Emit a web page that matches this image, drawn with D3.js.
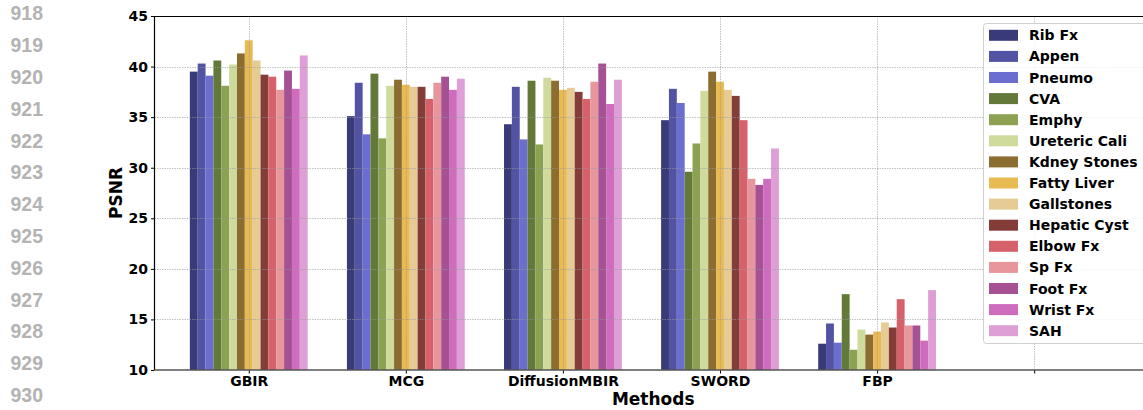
<!DOCTYPE html>
<html><head><meta charset="utf-8">
<script src="https://cdn.jsdelivr.net/npm/d3@7"></script>
<style>html,body{margin:0;padding:0;background:#fff;}svg{display:block;}</style>
</head><body>
<svg id="c" width="1143" height="410"></svg>
<script>
const methods = ["GBIR", "MCG", "DiffusionMBIR", "SWORD", "FBP"];
const diseases = ["Rib Fx","Appen","Pneumo","CVA","Emphy","Ureteric Cali","Kdney Stones","Fatty Liver","Gallstones","Hepatic Cyst","Elbow Fx","Sp Fx","Foot Fx","Wrist Fx","SAH"];
const colors = ["#393b79","#5254a3","#6b6ecf","#637939","#8ca252","#cedb9c","#8c6d31","#e7ba52","#e7cb94","#843c39","#d6616b","#e7969c","#a55194","#ce6dbd","#de9ed6"];
const gbir = [39.5,40.3,39.1,40.6,38.1,40.2,41.3,42.6,40.6,39.2,39.0,37.7,39.6,37.8,41.1];
const mcg = [35.1,38.4,33.3,39.3,32.9,38.1,38.7,38.2,38.0,38.0,36.8,38.4,39.0,37.7,38.8];
const diffusionMBIR = [34.3,38.0,32.8,38.6,32.3,38.9,38.6,37.7,37.9,37.5,36.8,38.5,40.3,36.3,38.7];
const sword = [34.7,37.8,36.4,29.6,32.4,37.6,39.5,38.5,37.7,37.1,34.7,28.9,28.3,28.9,31.9];
const fbp = [12.6,14.6,12.7,17.5,12.0,14.0,13.5,13.8,14.7,14.2,17.0,14.4,14.4,12.9,17.9];
const yTicks = [10,15,20,25,30,35,40,45];
const lineNumbers = ["918","919","920","921","922","923","924","925","926","927","928","929","930"];

const values = [gbir, mcg, diffusionMBIR, sword, fbp];
const svg = d3.select("#c");
const font = "'DejaVu Sans', sans-serif";

// line numbers
svg.append("g").selectAll("text").data(lineNumbers).join("text")
  .attr("x", 10.5).attr("y", (d,i) => 13.3 + i*31.8)
  .attr("dy", "0.36em")
  .attr("font-family", "'Liberation Sans', Arial, sans-serif")
  .attr("font-weight", "bold")
  .attr("font-size", 19.5).attr("fill", "#b3b3b3")
  .text(d => d);

const x = d3.scaleLinear().domain([-0.6, 5.75]).range([154.5, 1152]);
const y = d3.scaleLinear().domain([10, 45]).range([370, 16]);
const bw = 0.05;

// bars
const rows = [];
values.forEach((arr, mi) => arr.forEach((v, di) => rows.push({mi, di, v})));
svg.append("g").selectAll("rect").data(rows).join("rect")
  .attr("x", d => x(d.mi + (d.di - 7) * bw - bw/2))
  .attr("width", d => x(bw) - x(0))
  .attr("y", d => y(d.v))
  .attr("height", d => y(10) - y(d.v))
  .attr("fill", d => colors[d.di]);

// grid (on top)
const grid = svg.append("g").attr("stroke", "#9a9a9a").attr("stroke-opacity", 0.6)
  .attr("stroke-dasharray", "1.5,1").attr("stroke-width", 1);
grid.selectAll("line.h").data(yTicks.filter(t => t > 10 && t < 45)).join("line")
  .attr("x1", x(-0.6)).attr("x2", 1143)
  .attr("y1", d => Math.round(y(d)) + 0.5).attr("y2", d => Math.round(y(d)) + 0.5);
grid.selectAll("line.v").data(d3.range(0, 6)).join("line")
  .attr("y1", y(45)).attr("y2", y(10))
  .attr("x1", d => Math.round(x(d)) + 0.5).attr("x2", d => Math.round(x(d)) + 0.5);

// axes
const yAxis = d3.axisLeft(y).tickValues(yTicks).tickSize(3.5).tickPadding(3);
const gy = svg.append("g").attr("transform", `translate(${x(-0.6)},0)`).call(yAxis);
gy.select(".domain").remove();
gy.selectAll("text").attr("font-family", font).attr("font-weight", "bold").attr("font-size", 14).attr("fill", "#000");

const xAxis = d3.axisBottom(x).tickValues(d3.range(0, 6)).tickSize(3.5).tickPadding(3)
  .tickFormat(d => methods[d] || "");
const gx = svg.append("g").attr("transform", `translate(0,${y(10)})`).call(xAxis);
gx.select(".domain").remove();
gx.selectAll("text").attr("font-family", font).attr("font-weight", "bold").attr("font-size", 14).attr("fill", "#000");

// spines
svg.append("line").attr("x1", x(-0.6)).attr("x2", 1143).attr("y1", 16.5).attr("y2", 16.5).attr("stroke", "#000").attr("stroke-width", 1.2);
svg.append("line").attr("x1", 154.5).attr("x2", 154.5).attr("y1", y(45)).attr("y2", y(10)).attr("stroke", "#000").attr("stroke-width", 1.2);
svg.append("line").attr("x1", x(-0.6)).attr("x2", 1143).attr("y1", y(10)).attr("y2", y(10)).attr("stroke", "#555").attr("stroke-width", 1.5);

// axis labels
svg.append("text").attr("x", (x(-0.6) + x(5.75)) / 2).attr("y", 405)
  .attr("text-anchor", "middle").attr("font-family", font).attr("font-weight", "bold").attr("font-size", 17)
  .text("Methods");
svg.append("text").attr("transform", `translate(122,${(y(45)+y(10))/2}) rotate(-90)`)
  .attr("text-anchor", "middle").attr("font-family", font).attr("font-weight", "bold").attr("font-size", 17)
  .text("PSNR");

// legend
const lg = svg.append("g");
lg.append("rect").attr("x", 983.5).attr("y", 23.5).attr("width", 190).attr("height", 320).attr("rx", 3)
  .attr("fill", "#fff").attr("fill-opacity", 0.85).attr("stroke", "#d0d0d0");
const items = lg.selectAll("g.item").data(diseases).join("g")
  .attr("transform", (d,i) => `translate(989,${35.3 + i*21.1})`);
items.append("rect").attr("x", 0).attr("y", -5.5).attr("width", 29).attr("height", 11)
  .attr("fill", (d,i) => colors[i]);
items.append("text").attr("x", 40).attr("y", 0).attr("dy", "0.36em")
  .attr("font-family", font).attr("font-weight", "bold").attr("font-size", 14).text(d => d);
</script>
</body></html>
